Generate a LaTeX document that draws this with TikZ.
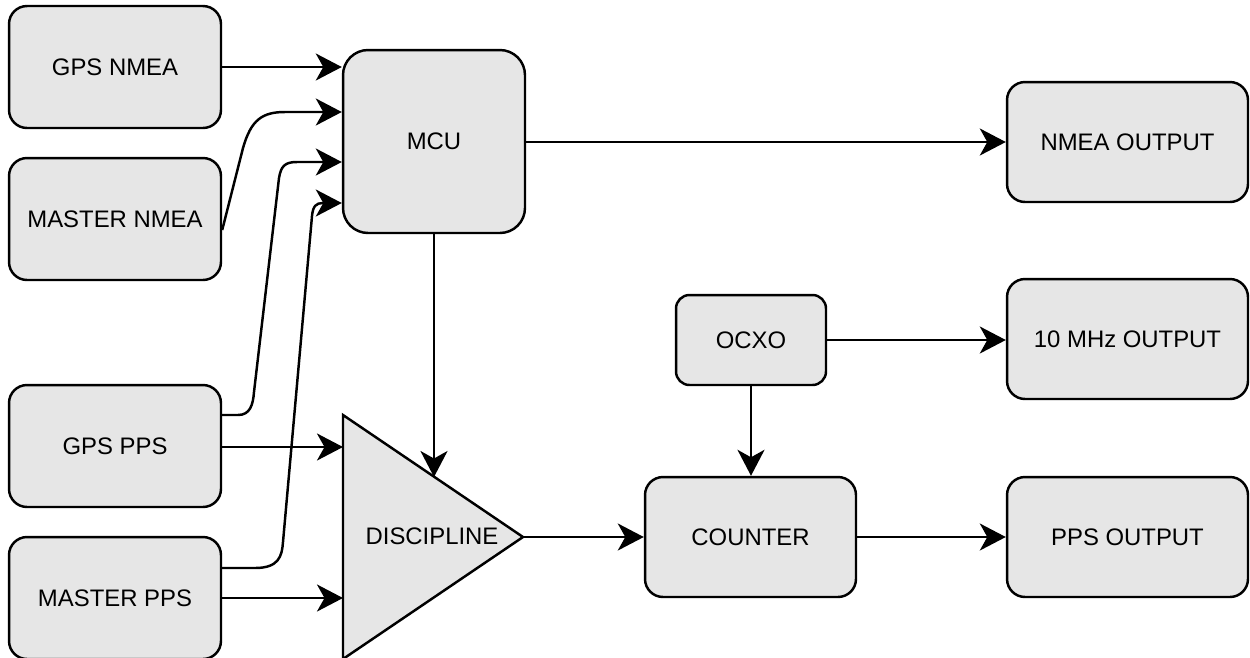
\documentclass[tikz,border=0pt]{standalone}
\usepackage{fontspec}
\setmainfont{Liberation Sans}
\usetikzlibrary{arrows.meta}
\definecolor{boxgray}{HTML}{E6E6E6}
\begin{document}
\begin{tikzpicture}[x=0.02cm,y=-0.02cm,
  box/.style={draw=black, line width=1.4pt, fill=boxgray, rounded corners=#1, inner sep=0pt,
    font=\fontsize{13.6}{16}\selectfont, text=black},
  box/.default=0.36cm,
  conn/.style={line width=1.4pt, draw=black, -{Stealth[length=0.52cm,width=0.54cm,inset=0.15cm]}}]
\useasboundingbox (0,0) rectangle (1250,657);

\node[box, minimum width=4.24cm, minimum height=2.44cm] (gpsn) at (115,67) {GPS NMEA};
\node[box, minimum width=4.24cm, minimum height=2.44cm] (mstn) at (115,219) {MASTER NMEA};
\node[box, minimum width=4.24cm, minimum height=2.44cm] (gpps) at (115,446) {GPS PPS};
\node[box, minimum width=4.24cm, minimum height=2.44cm] (mpps) at (115,598) {MASTER PPS};
\node[box=0.5cm, minimum width=3.64cm, minimum height=3.66cm] (mcu) at (434,141.5) {MCU};
\node[box, minimum width=4.82cm, minimum height=2.4cm] (nout) at (1127.5,142) {NMEA OUTPUT};
\node[box, minimum width=4.82cm, minimum height=2.4cm] (tout) at (1127.5,339) {10 MHz OUTPUT};
\node[box, minimum width=4.82cm, minimum height=2.4cm] (pout) at (1127.5,537) {PPS OUTPUT};
\node[box=0.27cm, minimum width=3.0cm, minimum height=1.8cm] (ocxo) at (751,340) {OCXO};
\node[box, minimum width=4.22cm, minimum height=2.4cm] (cnt) at (750.5,537) {COUNTER};

% discipline triangle
\draw[line width=1.4pt, fill=boxgray] (343,415) -- (523,537) -- (343,659) -- cycle;
\node[font=\fontsize{13.6}{16}\selectfont, text=black] (disc) at (432,536) {DISCIPLINE};
\coordinate (discin1) at (343,447);
\coordinate (discin2) at (343,598);
\coordinate (disctop) at (434,477);
\coordinate (discout) at (523,537);

% straight connectors
\draw[conn] (gpsn.east) -- (gpsn.east -| mcu.west);
\draw[conn] (mcu.east |- nout.west) -- (nout.west);
\draw[conn] (gpps.east |- discin1) -- (discin1);
\draw[conn] (mpps.east) -- (discin2);
\draw[conn] (mcu.south) -- (disctop);
\draw[conn] (discout) -- (cnt.west);
\draw[conn] (cnt.east) -- (pout.west);
\draw[conn] (ocxo.east) -- (ocxo.east -| tout.west);
\draw[conn] (ocxo.south) -- (cnt.north -| ocxo.south);

% curved connectors
\draw[conn] (mstn.east |- 0,230) -- (243,148) .. controls (251,120) and (262,112) .. (285,112) -- (mcu.west |- 0,112);
\draw[conn] (gpps.east |- 0,415) -- (238,415) .. controls (250,415) and (253,405) .. (254,392)
   -- (279,178) .. controls (281,166) and (285,162) .. (297,162) -- (mcu.west |- 0,162);
\draw[conn] (mpps.east |- 0,568) -- (255,568) .. controls (279,568) and (282,556) .. (283,542)
   -- (312,216) .. controls (313,206) and (316,203) .. (323,203) -- (mcu.west |- 0,203);
\end{tikzpicture}
\end{document}
